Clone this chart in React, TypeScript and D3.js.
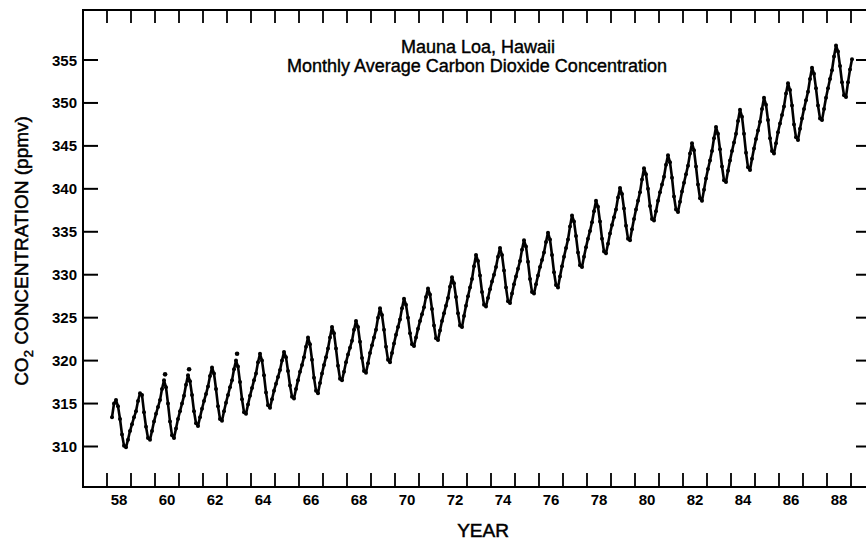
import React from "react";
import * as d3 from "d3";

// Monthly average CO2 (ppmv), Jan..Dec per year
const years = [1958,1959,1960,1961,1962,1963,1964,1965,1966,1967,1968,1969,1970,1971,1972,1973,1974,1975,1976,1977,1978,1979,1980,1981,1982,1983,1984,1985,1986,1987,1988,1989];
const monthly: (number | null)[][] = [
  [null, null, 313.4, 315.0, 315.4, 314.7, 313.2, 311.4, 310.1, 309.9, 310.8, 311.8],
  [312.6, 313.4, 314.1, 315.3, 316.2, 316.0, 314.0, 312.3, 311.0, 310.8, 311.8, 312.9],
  [313.8, 314.6, 315.4, 316.7, 317.7, 316.9, 315.0, 312.9, 311.3, 311.0, 312.1, 313.2],
  [314.1, 315.0, 315.9, 317.2, 318.3, 317.6, 316.0, 314.1, 312.7, 312.4, 313.4, 314.4],
  [315.3, 316.1, 317.0, 318.2, 319.2, 318.5, 316.7, 314.7, 313.2, 313.0, 314.1, 315.1],
  [316.0, 316.9, 317.7, 319.0, 320.0, 319.3, 317.5, 315.5, 314.0, 313.8, 314.9, 315.9],
  [316.8, 317.7, 318.5, 319.8, 320.8, 320.0, 318.3, 316.3, 314.8, 314.5, 315.5, 316.5],
  [317.3, 318.1, 318.9, 320.0, 321.0, 320.4, 318.8, 317.1, 315.8, 315.6, 316.7, 317.7],
  [318.7, 319.5, 320.4, 321.6, 322.7, 321.9, 320.1, 318.0, 316.5, 316.2, 317.4, 318.5],
  [319.5, 320.4, 321.4, 322.7, 323.9, 323.2, 321.4, 319.4, 317.9, 317.7, 318.7, 319.8],
  [320.7, 321.5, 322.3, 323.6, 324.6, 323.9, 322.2, 320.3, 318.8, 318.6, 319.7, 320.9],
  [321.8, 322.7, 323.6, 325.0, 326.1, 325.3, 323.6, 321.6, 320.1, 319.8, 320.9, 322.0],
  [323.0, 323.9, 324.8, 326.1, 327.2, 326.5, 325.0, 323.2, 321.9, 321.7, 322.7, 323.7],
  [324.6, 325.4, 326.2, 327.4, 328.4, 327.7, 326.0, 324.1, 322.6, 322.4, 323.5, 324.6],
  [325.5, 326.4, 327.3, 328.6, 329.7, 329.0, 327.4, 325.5, 324.1, 323.9, 325.2, 326.4],
  [327.5, 328.5, 329.5, 331.0, 332.3, 331.6, 329.9, 328.0, 326.5, 326.3, 327.3, 328.3],
  [329.2, 330.0, 330.9, 332.1, 333.1, 332.3, 330.5, 328.5, 326.9, 326.7, 327.8, 328.9],
  [329.8, 330.7, 331.6, 332.9, 334.0, 333.3, 331.5, 329.5, 328.0, 327.8, 328.9, 329.9],
  [330.9, 331.7, 332.6, 333.8, 334.9, 334.1, 332.3, 330.3, 328.8, 328.5, 329.8, 331.0],
  [332.1, 333.1, 334.1, 335.6, 336.9, 336.2, 334.5, 332.6, 331.1, 330.9, 332.1, 333.2],
  [334.2, 335.1, 336.1, 337.4, 338.6, 337.9, 336.2, 334.2, 332.7, 332.5, 333.6, 334.8],
  [335.8, 336.7, 337.6, 339.0, 340.1, 339.4, 337.7, 335.7, 334.2, 334.0, 335.3, 336.5],
  [337.6, 338.6, 339.6, 341.1, 342.4, 341.7, 340.0, 338.0, 336.5, 336.3, 337.4, 338.6],
  [339.6, 340.5, 341.4, 342.8, 343.9, 343.1, 341.3, 339.1, 337.6, 337.3, 338.5, 339.7],
  [340.7, 341.7, 342.7, 344.1, 345.3, 344.5, 342.6, 340.5, 338.9, 338.6, 339.9, 341.2],
  [342.3, 343.3, 344.4, 345.9, 347.2, 346.4, 344.6, 342.6, 341.0, 340.8, 342.1, 343.3],
  [344.4, 345.4, 346.4, 347.9, 349.2, 348.4, 346.4, 344.2, 342.5, 342.2, 343.5, 344.7],
  [345.8, 346.8, 347.8, 349.3, 350.6, 349.8, 348.0, 345.9, 344.4, 344.1, 345.3, 346.6],
  [347.6, 348.6, 349.6, 351.1, 352.3, 351.5, 349.7, 347.5, 346.0, 345.7, 347.0, 348.2],
  [349.3, 350.3, 351.3, 352.8, 354.1, 353.4, 351.7, 349.7, 348.2, 348.0, 349.3, 350.6],
  [351.7, 352.8, 353.8, 355.4, 356.7, 356.0, 354.3, 352.4, 350.9, 350.7, 352.4, 353.9],
  [355.1, null, null, null, null, null, null, null, null, null, null, null],
];

// isolated points drawn above a few peaks
const isolatedYears = [1960.42, 1961.42, 1963.42];
const isolatedValues = [318.4, 319.0, 320.8];

const yTicks = [310, 315, 320, 325, 330, 335, 340, 345, 350, 355];
const xTickYears = d3.range(1958, 1990);
const xLabelYears = [1958, 1960, 1962, 1964, 1966, 1968, 1970, 1972, 1974, 1976, 1978, 1980, 1982, 1984, 1986, 1988];
const xLabels = ["58", "60", "62", "64", "66", "68", "70", "72", "74", "76", "78", "80", "82", "84", "86", "88"];

const titleLines = ["Mauna Loa, Hawaii", "Monthly Average Carbon Dioxide Concentration"];

const W = 866, H = 540;
const left = 83, top = 10, bottom = 487, right = 866;

export default function App() {
  const x = d3.scaleLinear().domain([1957, 1989.625]).range([left, right]);
  const y = d3.scaleLinear().domain([310, 355]).range([446.5, 60]);

  const pts: [number, number][] = [];
  years.forEach((yr, i) => {
    monthly[i].forEach((v, m) => {
      if (v != null) pts.push([yr + (m + 0.5) / 12, v]);
    });
  });
  const line = d3.line<[number, number]>().x(d => x(d[0])).y(d => y(d[1]));
  const font = "'Liberation Sans', Arial, Helvetica, sans-serif";

  return (
    <svg width={W} height={H} style={{ position: "absolute", left: 0, top: 0, background: "#fff" }} fontFamily={font}>
      <rect x={0} y={0} width={W} height={H} fill="#fff" />
      {/* frame */}
      <line x1={left} y1={top} x2={right} y2={top} stroke="#000" strokeWidth={2} />
      <line x1={left} y1={top - 1} x2={left} y2={bottom + 1} stroke="#000" strokeWidth={2} />
      <line x1={left} y1={bottom} x2={right} y2={bottom} stroke="#000" strokeWidth={2} />
      {/* x ticks */}
      {xTickYears.map(yr => (
        <g key={"xt" + yr}>
          <line x1={x(yr)} x2={x(yr)} y1={top} y2={top + 13} stroke="#000" strokeWidth={1.8} />
          <line x1={x(yr)} x2={x(yr)} y1={bottom} y2={bottom - 14} stroke="#000" strokeWidth={1.8} />
        </g>
      ))}
      {xLabelYears.map((yr, i) => (
        <text key={"xl" + yr} x={x(yr + 0.5)} y={505} textAnchor="middle" fontSize={15} fontWeight="bold">{xLabels[i]}</text>
      ))}
      {/* y ticks */}
      {yTicks.map(v => (
        <g key={"yt" + v}>
          <line x1={left} x2={left + 15} y1={y(v)} y2={y(v)} stroke="#000" strokeWidth={2} />
          <line x1={right - 10} x2={right} y1={y(v)} y2={y(v)} stroke="#000" strokeWidth={2} />
          <text x={77} y={y(v) + 5.5} textAnchor="end" fontSize={15} fontWeight="bold">{v}</text>
        </g>
      ))}
      {/* axis titles */}
      <text x={483} y={537} textAnchor="middle" fontSize={19} stroke="#000" strokeWidth={0.5}>YEAR</text>
      <text transform={`translate(28,251) rotate(-90)`} textAnchor="middle" fontSize={19} stroke="#000" strokeWidth={0.5}>
        CO<tspan fontSize={13} dy={5}>2</tspan><tspan dy={-5}>{" CONCENTRATION  (ppmv)"}</tspan>
      </text>
      {/* title */}
      <text x={478} y={53} textAnchor="middle" fontSize={18} stroke="#000" strokeWidth={0.4}>{titleLines[0]}</text>
      <text x={477} y={72} textAnchor="middle" fontSize={18} stroke="#000" strokeWidth={0.4}>{titleLines[1]}</text>
      {/* data */}
      <path d={line(pts) || ""} fill="none" stroke="#000" strokeWidth={2.6} strokeLinejoin="round" />
      {pts.map((p, i) => (
        <circle key={"p" + i} cx={x(p[0])} cy={y(p[1])} r={2} fill="#000" />
      ))}
      {isolatedYears.map((yr, i) => (
        <circle key={"iso" + i} cx={x(yr)} cy={y(isolatedValues[i])} r={2.3} fill="#000" />
      ))}
    </svg>
  );
}
